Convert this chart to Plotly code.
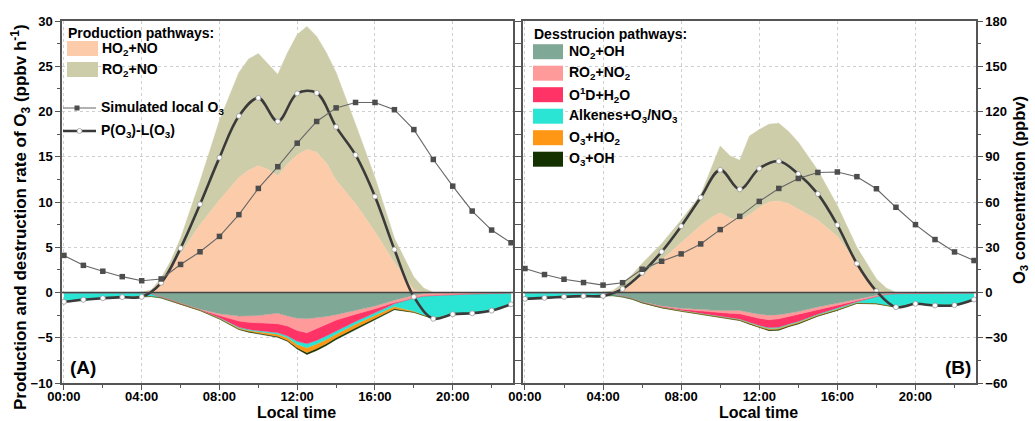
import plotly.graph_objects as go

# ---------------- data ----------------
hours = list(range(24))
hour_ticks = [0, 4, 8, 12, 16, 20]
hour_labels = ["00:00", "04:00", "08:00", "12:00", "16:00", "20:00"]

t_area = [0, 1, 2, 3, 4, 4.5, 5, 5.5, 6, 7, 8, 9, 9.5, 10, 10.5, 11, 11.5, 12, 12.5,
          13, 13.5, 14, 15, 16, 17, 18, 18.5, 19, 20, 21, 22, 23]

# Panel A production (ppbv h-1)
a_ho2_no = [0, 0, 0, 0, 0, 0.2, 1.3, 2.7, 4.3, 7.5, 10.2, 12.7, 13.5, 14.0, 13.6, 12.9, 14.2, 15.2, 15.8,
            15.5, 14.3, 12.4, 9.8, 6.7, 3.3, 0.3, 0, 0, 0, 0, 0, 0]
a_ro2_no = [0, 0, 0, 0, 0, 0.1, 0.3, 0.8, 1.7, 4.8, 8.8, 11.6, 12.3, 12.4, 11.7, 11.2, 12.3, 13.3, 13.6,
            12.8, 12.2, 11.9, 8.8, 6.0, 2.7, 1.4, 0.5, 0, 0, 0, 0, 0]
# Panel A destruction (ppbv h-1, magnitudes)
a_no2_oh = [0.05, 0.05, 0.05, 0.05, 0.05, 0.15, 0.5, 0.9, 1.25, 1.85, 2.35, 2.6, 2.6, 2.55, 2.4, 2.3, 2.6, 2.85, 2.9,
            2.8, 2.65, 2.45, 2.0, 1.5, 0.85, 0.3, 0.12, 0.05, 0.02, 0.02, 0.02, 0.02]
a_ro2_no2 = [0, 0, 0, 0, 0, 0, 0, 0, 0.02, 0.05, 0.2, 0.55, 0.7, 0.8, 1.0, 1.15, 1.1, 1.35, 1.55,
             1.2, 0.85, 0.6, 0.4, 0.3, 0.25, 0.3, 0.3, 0.3, 0.2, 0.15, 0.1, 0.05]
a_o1d_h2o = [0, 0, 0, 0, 0, 0, 0, 0, 0.02, 0.05, 0.25, 0.7, 0.8, 0.85, 0.95, 1.0, 1.1, 1.2, 1.2,
             1.3, 1.3, 1.2, 0.8, 0.45, 0.15, 0.02, 0, 0, 0, 0, 0, 0]
a_alkenes = [0.98, 0.75, 0.58, 0.46, 0.43, 0.3, 0.1, 0.05, 0.03, 0.02, 0.05, 0.1, 0.1, 0.12, 0.14, 0.15, 0.2, 0.35, 0.45,
             0.4, 0.4, 0.35, 0.3, 0.3, 0.3, 1.45, 2.1, 2.5, 2.18, 2.13, 1.88, 1.23]
a_o3_ho2 = [0, 0, 0, 0, 0, 0, 0, 0, 0.01, 0.02, 0.05, 0.1, 0.12, 0.18, 0.22, 0.25, 0.3, 0.35, 0.55,
            0.5, 0.45, 0.4, 0.4, 0.3, 0.25, 0.1, 0.05, 0.05, 0, 0, 0, 0]
a_o3_oh = [0, 0, 0, 0, 0, 0, 0, 0, 0.01, 0.01, 0.03, 0.05, 0.06, 0.08, 0.09, 0.1, 0.1, 0.15, 0.2,
           0.2, 0.2, 0.2, 0.2, 0.15, 0.1, 0.03, 0.01, 0, 0, 0, 0, 0]
a_o3_conc = [24.6, 18.0, 14.1, 10.5, 7.8, 9.0, 18.6, 27.0, 37.2, 51.6, 69.0, 83.4, 99.0, 113.4, 122.4, 126.0,
             126.0, 121.2, 108.0, 88.2, 70.5, 54.0, 41.4, 33.0]
a_net = [-1.03, -0.8, -0.63, -0.51, -0.48, 1.07, 4.9, 9.75, 14.9, 19.5, 21.5, 18.9, 22.0, 22.05, 18.3, 15.2,
         10.6, 4.75, -0.48, -2.9, -2.4, -2.3, -2.0, -1.3]

# Panel B production
b_ho2_no = [0, 0, 0, 0, 0, 0.1, 0.5, 1.1, 1.8, 3.6, 5.5, 7.4, 8.2, 8.8, 8.2, 8.0, 8.6, 9.4, 10.0,
            10.1, 9.8, 9.2, 8.0, 6.2, 3.2, 0.3, 0, 0, 0, 0, 0, 0]
b_ro2_no = [0, 0, 0, 0, 0, 0.1, 0.5, 0.9, 1.4, 1.8, 2.5, 3.4, 5.4, 7.4, 6.9, 6.6, 8.7, 8.6, 8.6,
            8.6, 8.0, 7.4, 5.5, 3.4, 1.8, 1.2, 0.5, 0, 0, 0, 0, 0]
# Panel B destruction
b_no2_oh = [0.05, 0.05, 0.05, 0.05, 0.05, 0.15, 0.4, 0.7, 1.05, 1.5, 1.75, 1.9, 1.95, 2.0, 2.0, 2.0, 2.2, 2.4, 2.5,
            2.45, 2.3, 2.1, 1.6, 1.2, 0.75, 0.3, 0.1, 0.03, 0.02, 0.02, 0.02, 0.02]
b_ro2_no2 = [0, 0, 0, 0, 0, 0, 0, 0, 0.02, 0.05, 0.1, 0.15, 0.2, 0.25, 0.3, 0.35, 0.4, 0.45, 0.5,
             0.45, 0.35, 0.3, 0.25, 0.2, 0.15, 0.15, 0.12, 0.1, 0.08, 0.07, 0.06, 0.05]
b_o1d_h2o = [0, 0, 0, 0, 0, 0, 0, 0, 0.02, 0.08, 0.15, 0.3, 0.35, 0.45, 0.5, 0.6, 0.7, 0.8, 0.9,
             0.95, 0.85, 0.8, 0.55, 0.35, 0.12, 0.02, 0, 0, 0, 0, 0, 0]
b_alkenes = [0.65, 0.54, 0.43, 0.35, 0.32, 0.2, 0.1, 0.05, 0.03, 0.03, 0.03, 0.03, 0.04, 0.04, 0.05, 0.05, 0.06, 0.08, 0.1,
             0.1, 0.1, 0.1, 0.08, 0.1, 0.1, 0.75, 1.2, 1.48, 1.15, 1.35, 1.32, 0.7]
b_o3_ho2 = [0, 0, 0, 0, 0, 0, 0, 0, 0.02, 0.03, 0.03, 0.03, 0.04, 0.04, 0.05, 0.06, 0.08, 0.1, 0.12,
            0.12, 0.1, 0.1, 0.08, 0.08, 0.06, 0.03, 0.02, 0.01, 0, 0, 0, 0]
b_o3_oh = [0, 0, 0, 0, 0, 0, 0, 0, 0.01, 0.01, 0.02, 0.02, 0.02, 0.02, 0.03, 0.04, 0.06, 0.07, 0.1,
           0.1, 0.08, 0.08, 0.06, 0.05, 0.03, 0.01, 0, 0, 0, 0, 0, 0]
b_o3_conc = [15.9, 11.9, 8.8, 6.6, 4.9, 6.5, 15.4, 20.7, 25.6, 32.2, 41.7, 50.5, 60.4, 69.0, 75.6, 79.6,
             79.9, 76.8, 68.8, 56.5, 45.0, 35.1, 26.9, 21.2]
b_net = [-0.7, -0.59, -0.48, -0.4, -0.37, 0.4, 2.17, 4.5, 7.33, 10.5, 13.55, 11.4, 13.7, 14.5, 13.1, 10.9,
         7.45, 3.2, 0.15, -1.62, -1.25, -1.44, -1.4, -0.77]

prod_names = ["HO<sub>2</sub>+NO", "RO<sub>2</sub>+NO"]
prod_colors = ["#FCCBA9", "#CDCDAA"]
dest_names = ["NO<sub>2</sub>+OH", "RO<sub>2</sub>+NO<sub>2</sub>", "O<sup>1</sup>D+H<sub>2</sub>O",
              "Alkenes+O<sub>3</sub>/NO<sub>3</sub>", "O<sub>3</sub>+HO<sub>2</sub>", "O<sub>3</sub>+OH"]
dest_colors = ["#80A896", "#FF9A9A", "#FF3366", "#2AE4D4", "#FF9614", "#143200"]

# ---------------- figure ----------------
W, H = 1035, 421
FONT = "Arial, 'Liberation Sans', sans-serif"
AXC = "#555555"

fig = go.Figure()


def add_panel(xa, ya, ya2, prod, dest, o3, net, tag):
    for name, vals, col in zip(prod_names, prod, prod_colors):
        fig.add_trace(go.Scatter(x=t_area, y=vals, name=name, stackgroup="p" + tag, mode="lines",
                                 line=dict(width=0.5, color=col), fillcolor=col,
                                 xaxis=xa, yaxis=ya, showlegend=False))
    for name, vals, col in zip(dest_names, dest, dest_colors):
        fig.add_trace(go.Scatter(x=t_area, y=[-v for v in vals], name=name, stackgroup="d" + tag,
                                 mode="lines", line=dict(width=0.5, color=col), fillcolor=col,
                                 xaxis=xa, yaxis=ya, showlegend=False))
    fig.add_trace(go.Scatter(x=hours, y=net, name="P(O<sub>3</sub>)-L(O<sub>3</sub>)", mode="lines+markers",
                             line=dict(color="#3A3A3A", width=2.6, shape="spline", smoothing=1.0),
                             marker=dict(symbol="circle", size=5, color="white",
                                         line=dict(color="#999999", width=0.8)),
                             xaxis=xa, yaxis=ya, showlegend=False))
    fig.add_trace(go.Scatter(x=hours, y=o3, name="Simulated local O<sub>3</sub>", mode="lines+markers",
                             line=dict(color="#666666", width=1.1),
                             marker=dict(symbol="square", size=5.5, color="#4D4D4D"),
                             xaxis=xa, yaxis=ya2, showlegend=False))


add_panel("x", "y", "y2", [a_ho2_no, a_ro2_no],
          [a_no2_oh, a_ro2_no2, a_o1d_h2o, a_alkenes, a_o3_ho2, a_o3_oh], a_o3_conc, a_net, "A")
add_panel("x2", "y3", "y4", [b_ho2_no, b_ro2_no],
          [b_no2_oh, b_ro2_no2, b_o1d_h2o, b_alkenes, b_o3_ho2, b_o3_oh], b_o3_conc, b_net, "B")

ydom = [1 - 383 / H, 1 - 21 / H]
tickfont = dict(family=FONT, size=13, color="black", weight="bold")


def xaxis_cfg(dom, anchor):
    return dict(domain=dom, anchor=anchor, range=[-0.1, 23.1], tickvals=hour_ticks, ticktext=hour_labels,
                ticks="outside", ticklen=5, tickwidth=1.2, tickcolor=AXC, automargin=False,
                ticklabelstandoff=-4,
                minor=dict(dtick=2, tick0=0, ticks="outside", ticklen=3, tickcolor=AXC, showgrid=False),
                showline=True, linecolor=AXC, linewidth=1.5, mirror=True,
                showgrid=True, gridcolor="#CFCFCF", griddash="dot", gridwidth=1,
                zeroline=False, tickfont=tickfont)


def yaxis_cfg(anchor, labels):
    return dict(domain=ydom, anchor=anchor, range=[-10, 30], tick0=-10, dtick=5, automargin=False,
                ticks="outside", ticklen=5, tickwidth=1.2, tickcolor=AXC,
                minor=dict(dtick=2.5, ticks="outside", ticklen=3, tickcolor=AXC, showgrid=False),
                showline=True, linecolor=AXC, linewidth=1.5,
                showgrid=True, gridcolor="#CFCFCF", griddash="dot", gridwidth=1,
                zeroline=False, showticklabels=labels, tickfont=tickfont)


def o3axis_cfg(over, anchor, labels):
    return dict(overlaying=over, anchor=anchor, side="right", range=[-60, 180], tick0=-60, dtick=30,
                ticks="outside", ticklen=5, tickwidth=1.2, tickcolor=AXC, automargin=False,
                minor=dict(dtick=15, ticks="outside", ticklen=3, tickcolor=AXC, showgrid=False),
                showline=True, linecolor=AXC, linewidth=1.5, showgrid=False, zeroline=False,
                showticklabels=labels, tickfont=tickfont)


fig.update_layout(
    width=W, height=H, margin=dict(l=0, r=0, t=0, b=0, autoexpand=False),
    paper_bgcolor="white", plot_bgcolor="white", showlegend=False,
    font=dict(family=FONT, color="black"),
    xaxis=xaxis_cfg([62 / W, 513 / W], "y"),
    yaxis=yaxis_cfg("x", True),
    yaxis2=o3axis_cfg("y", "x", False),
    xaxis2=xaxis_cfg([523 / W, 976 / W], "y3"),
    yaxis3=yaxis_cfg("x2", False),
    yaxis4=o3axis_cfg("y3", "x2", True),
)

# zero lines
for xr, yr in (("x domain", "y"), ("x2 domain", "y3")):
    fig.add_shape(type="line", xref=xr, yref=yr, x0=0, x1=1, y0=0, y1=0,
                  line=dict(color="#444444", width=1.3), layer="above")


def px_(x):
    return x / W


def py_(y):
    return 1 - y / H


def label(text, x, y, size=14, xanchor="left", angle=0):
    fig.add_annotation(text=text, xref="paper", yref="paper", x=px_(x), y=py_(y), xanchor=xanchor,
                       yanchor="middle", showarrow=False, textangle=angle,
                       font=dict(family=FONT, size=size, color="black", weight="bold"))


def box(x0, y0, x1, y1, col):
    fig.add_shape(type="rect", xref="paper", yref="paper", x0=px_(x0), x1=px_(x1), y0=py_(y1), y1=py_(y0),
                  fillcolor=col, line=dict(width=0), layer="above")


# axis titles
label("Production and destruction rate of O<sub>3</sub> (ppbv h<sup>-1</sup>)", 20, 217, size=17,
      xanchor="center", angle=-90)
label("O<sub>3</sub> concentration (ppbv)", 1020, 190, size=16.5, xanchor="center", angle=-90)
label("Local time", 296, 412, size=16, xanchor="center")
label("Local time", 758, 412, size=16, xanchor="center")

# Panel A legend
label("Production pathways:", 66, 33)
for i, (n, c) in enumerate(zip(prod_names, prod_colors)):
    yc = 48.5 + i * 21
    box(67, yc - 7.5, 98, yc + 7.5, c)
    label(n, 100, yc)
# line legend entries
fig.add_shape(type="line", xref="paper", yref="paper", x0=px_(63), x1=px_(96), y0=py_(108), y1=py_(108),
              line=dict(color="#666666", width=1.1), layer="above")
fig.add_shape(type="rect", xref="paper", yref="paper", x0=px_(74.5), x1=px_(79.5), y0=py_(110.5), y1=py_(105.5),
              fillcolor="#4D4D4D", line=dict(width=0), layer="above")
label("Simulated local O<sub>3</sub>", 99, 108)
fig.add_shape(type="line", xref="paper", yref="paper", x0=px_(63), x1=px_(96), y0=py_(131), y1=py_(131),
              line=dict(color="#3A3A3A", width=2.6), layer="above")
fig.add_shape(type="circle", xref="paper", yref="paper", x0=px_(77), x1=px_(82), y0=py_(133.5), y1=py_(128.5),
              fillcolor="white", line=dict(color="#999999", width=0.8), layer="above")
label("P(O<sub>3</sub>)-L(O<sub>3</sub>)", 99, 131)

# Panel B legend
label("Desstrucion pathways:", 532, 34)
for i, (n, c) in enumerate(zip(dest_names, dest_colors)):
    yc = 51.7 + i * 21.5
    box(533, yc - 7.5, 563, yc + 7.5, c)
    label(n, 567, yc)

# panel tags
label("(A)", 68, 367, size=19)
label("(B)", 973, 367, size=19, xanchor="right")

fig.write_html("out.html")
